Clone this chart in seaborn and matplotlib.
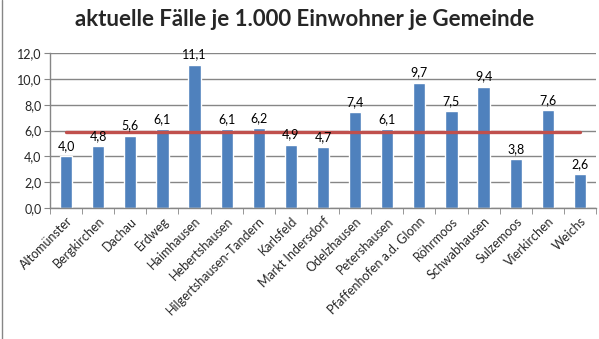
import matplotlib
matplotlib.use("Agg")
import matplotlib.pyplot as plt
import seaborn as sns
import pandas as pd
from matplotlib.ticker import FixedLocator, FuncFormatter

gemeinden = ["Altomünster", "Bergkirchen", "Dachau", "Erdweg", "Haimhausen",
             "Hebertshausen", "Hilgertshausen-Tandern", "Karlsfeld", "Markt Indersdorf",
             "Odelzhausen", "Petershausen", "Pfaffenhofen a.d. Glonn", "Röhrmoos",
             "Schwabhausen", "Sulzemoos", "Vierkirchen", "Weichs"]
faelle = [4.0, 4.8, 5.6, 6.1, 11.1, 6.1, 6.2, 4.9, 4.7, 7.4, 6.1, 9.7, 7.5, 9.4, 3.8, 7.6, 2.6]
durchschnitt = 5.85
title = "aktuelle Fälle je 1.000 Einwohner je Gemeinde"

df = pd.DataFrame({"Gemeinde": gemeinden, "Faelle": faelle,
                   "Schnitt": [durchschnitt] * len(gemeinden)})

sns.set_style("white")
plt.rcParams["font.family"] = ["Lato", "DejaVu Sans"]

fig = plt.figure(figsize=(5.99, 3.39), dpi=100)
ax = fig.add_axes([50/599, 1-208/339, 546/599, 155/339])

sns.barplot(data=df, x="Gemeinde", y="Faelle", color="#4F81BD", width=0.38,
            saturation=1, ax=ax, zorder=2)
sns.lineplot(data=df, x="Gemeinde", y="Schnitt", color="#C0504D", linewidth=2.4,
             ax=ax, zorder=3)

for i, v in enumerate(faelle):
    ax.annotate(f"{v:.1f}".replace(".", ","), (i, v), xytext=(0, 3),
                textcoords="offset points", ha="center", va="bottom",
                fontsize=9, color="black", zorder=4)

ax.set_ylim(0, 12)
ax.set_xlim(-0.5, len(gemeinden) - 0.5)
ax.set_yticks([0, 2, 4, 6, 8, 10, 12])
ax.yaxis.set_major_formatter(FuncFormatter(lambda v, p: f"{v:.1f}".replace(".", ",")))
ax.yaxis.grid(True, color="#868686", linewidth=1)
ax.set_axisbelow(True)
ax.set_xlabel("")
ax.set_ylabel("")

for s in ["top", "right"]:
    ax.spines[s].set_visible(False)
for s in ["left", "bottom"]:
    ax.spines[s].set_color("#868686")
    ax.spines[s].set_linewidth(1)

ax.set_xticks(range(len(gemeinden)))
ax.set_xticklabels(gemeinden, rotation=45, ha="right", rotation_mode="anchor", fontsize=9)
ax.xaxis.set_minor_locator(FixedLocator([i - 0.5 for i in range(len(gemeinden) + 1)]))
ax.tick_params(axis="x", which="major", length=0, pad=5)
ax.tick_params(axis="x", which="minor", length=4, color="#868686", direction="out", bottom=True)
ax.tick_params(axis="y", length=4, color="#868686", direction="out", labelsize=9, left=True, pad=2)

fig.text(305/599, 1-20/339, title, ha="center", va="center", fontsize=16, fontweight="bold")
fig.add_artist(plt.Line2D([1.5/599, 1.5/599], [0, 1], color="#868686", linewidth=1))

fig.savefig("out.png", dpi=100)
